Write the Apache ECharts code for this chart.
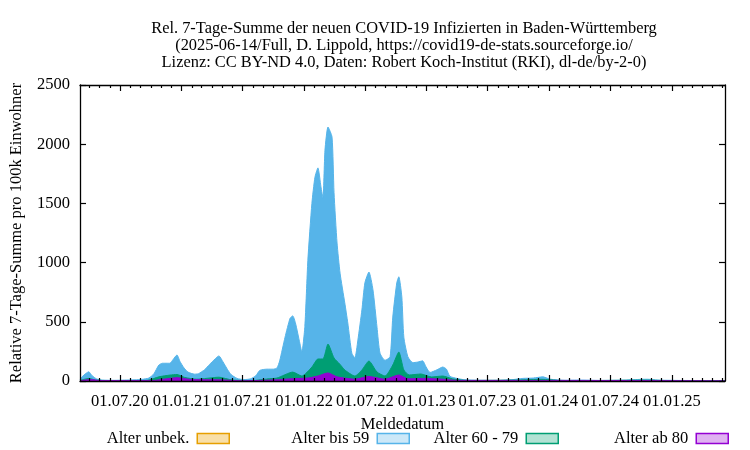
<!DOCTYPE html>
<html>
<head>
<meta charset="utf-8">
<script src="https://cdn.jsdelivr.net/npm/echarts@6/dist/echarts.min.js"></script>
<style>html,body{margin:0;padding:0;background:#fff}#c{width:750px;height:450px}</style>
</head>
<body>
<div id="c"></div>
<script>
// ---- data ----
const titleLines = [
  "Rel. 7-Tage-Summe der neuen COVID-19 Infizierten in Baden-Württemberg",
  "(2025-06-14/Full, D. Lippold, https://covid19-de-stats.sourceforge.io/",
  "Lizenz: CC BY-ND 4.0, Daten: Robert Koch-Institut (RKI), dl-de/by-2-0)"
];
const seriesNames = ["Alter unbek.", "Alter bis 59", "Alter 60 - 79", "Alter ab 80"];
const xRange = ["2020-03-04", "2025-06-08"];
const yTicks = [0, 500, 1000, 1500, 2000, 2500];

const unknownAge = [["2020-03-04",0],["2022-03-13",0],["2025-06-08",0]];

const age0to59 = [
  ["2020-03-04",15],["2020-03-10",35],["2020-03-22",65],["2020-03-30",78],["2020-04-09",45],
  ["2020-04-23",17],["2020-05-10",8],["2020-06-15",6],["2020-07-15",8],["2020-08-15",10],
  ["2020-09-05",14],["2020-09-25",25],["2020-10-10",60],["2020-10-25",135],["2020-11-05",150],
  ["2020-11-18",150],["2020-11-27",150],["2020-12-06",180],["2020-12-18",220],["2020-12-27",165],
  ["2021-01-08",110],["2021-01-20",75],["2021-02-08",58],["2021-02-20",62],["2021-03-10",95],
  ["2021-03-25",140],["2021-04-10",185],["2021-04-22",212],["2021-05-04",162],["2021-05-18",95],
  ["2021-05-28",55],["2021-06-15",22],["2021-07-05",12],["2021-07-25",18],["2021-08-10",45],
  ["2021-08-22",90],["2021-09-12",100],["2021-10-01",100],["2021-10-12",110],["2021-10-20",170],
  ["2021-11-05",370],["2021-11-20",530],["2021-11-28",550],["2021-12-06",490],["2021-12-19",320],
  ["2021-12-25",245],["2022-01-03",460],["2022-01-12",1020],["2022-01-24",1500],["2022-02-02",1720],
  ["2022-02-11",1800],["2022-02-20",1640],["2022-02-26",1545],["2022-03-04",1950],["2022-03-13",2145],
  ["2022-03-25",2060],["2022-03-31",1590],["2022-04-09",1165],["2022-04-18",910],["2022-05-02",660],
  ["2022-05-11",490],["2022-05-23",235],["2022-06-01",195],["2022-06-10",345],["2022-06-22",600],
  ["2022-07-01",830],["2022-07-13",920],["2022-07-25",770],["2022-08-06",455],["2022-08-15",235],
  ["2022-08-30",175],["2022-09-14",205],["2022-09-22",540],["2022-10-04",830],["2022-10-10",880],
  ["2022-10-19",710],["2022-10-25",370],["2022-11-06",205],["2022-11-21",155],["2022-12-05",160],
  ["2022-12-20",170],["2022-12-30",120],["2023-01-11",72],["2023-02-01",95],["2023-02-18",118],
  ["2023-03-01",100],["2023-03-11",40],["2023-04-01",22],["2023-04-25",10],["2023-06-01",6],
  ["2023-08-01",5],["2023-09-15",12],["2023-10-15",22],["2023-11-15",25],["2023-12-13",35],
  ["2024-01-05",15],["2024-02-15",6],["2024-04-01",8],["2024-06-01",5],["2024-08-15",8],
  ["2024-10-01",14],["2024-10-20",15],["2024-11-20",8],["2025-01-15",5],["2025-03-15",4],
  ["2025-06-08",3]
];

const age60to79 = [
  ["2020-03-04",5],["2020-03-30",22],["2020-04-20",8],["2020-06-01",3],["2020-09-20",5],
  ["2020-10-25",35],["2020-11-27",50],["2020-12-18",55],["2021-01-10",30],["2021-02-15",15],
  ["2021-04-22",32],["2021-06-01",8],["2021-08-01",4],["2021-09-15",18],["2021-10-12",25],
  ["2021-11-28",75],["2021-12-25",42],["2022-01-24",118],["2022-02-11",186],["2022-02-26",186],
  ["2022-03-13",312],["2022-03-31",194],["2022-04-18",140],["2022-05-02",93],["2022-06-01",42],
  ["2022-06-22",93],["2022-07-13",169],["2022-08-06",76],["2022-08-30",42],["2022-09-22",135],
  ["2022-10-10",245],["2022-10-25",93],["2022-11-10",51],["2022-12-15",59],["2023-01-15",34],
  ["2023-02-18",42],["2023-03-20",17],["2023-05-01",5],["2023-10-01",8],["2023-12-10",14],
  ["2024-02-01",5],["2024-05-01",4],["2024-10-15",7],["2025-01-01",3],["2025-06-08",2]
];

const age80plus = [
  ["2020-03-04",3],["2020-04-05",12],["2020-05-01",4],["2020-10-01",3],["2020-12-18",28],
  ["2021-02-01",12],["2021-04-22",10],["2021-07-01",2],["2021-10-12",10],["2021-11-28",20],
  ["2022-01-12",25],["2022-02-11",42],["2022-03-13",68],["2022-04-09",35],["2022-06-01",15],
  ["2022-07-13",38],["2022-08-30",15],["2022-10-10",51],["2022-11-06",18],["2022-12-20",22],
  ["2023-02-18",15],["2023-04-01",5],["2024-01-01",5],["2025-06-08",2]
];

// ---- helpers ----
function ts(s){ const p = s.split('-').map(Number); return new Date(p[0], p[1]-1, p[2]).getTime(); }
function toTs(arr){ return arr.map(function(r){ return [ts(r[0]), r[1]]; }); }
const xMin = ts(xRange[0]), xMax = ts(xRange[1]);
const majorTicks = [], minorTicks = [];
for (let y = 2020; y <= 2025; y++) {
  for (let m = 0; m < 12; m++) {
    const t = new Date(y, m, 1).getTime();
    if (t < xMin || t > xMax) continue;
    if (m === 0 || m === 6) majorTicks.push(t); else minorTicks.push(t);
  }
}
function fmt(v){
  const d = new Date(v);
  const p = function(n){ return (n < 10 ? '0' : '') + n; };
  return p(d.getDate()) + '.' + p(d.getMonth()+1) + '.' + p(d.getFullYear() % 100);
}

const FONT = 'Liberation Serif';
const colors = ['#e69f00', '#56b4e9', '#009e73', '#9400d3'];
const legendFill = ['#f8dfa8', '#cce8f8', '#b2e2d4', '#dfb2f1'];
const legendRight = [520, 340, 191, 21];

function xAx(pos, ticks, len, showLine, showLabel, extra){
  return Object.assign({
    type: 'value', position: pos, min: xMin, max: xMax, gridIndex: 0, scale: true, z: 10,
    axisLine: { show: showLine, onZero: false, lineStyle: { color: '#000', width: 1.3 } },
    axisTick: { show: true, inside: true, length: len, customValues: ticks, lineStyle: { color: '#000', width: 1.2 } },
    axisLabel: showLabel ? { show: true, customValues: ticks, formatter: fmt, color: '#000', fontFamily: FONT, fontSize: 16.5, margin: 12, hideOverlap: false } : { show: false, customValues: ticks },
    splitLine: { show: false }
  }, extra || {});
}
function yAx(pos, showLabel, extra){
  return Object.assign({
    type: 'value', position: pos, min: 0, max: 2500, interval: 500, z: 10,
    axisLine: { show: true, onZero: false, lineStyle: { color: '#000', width: 1.3 } },
    axisTick: { show: true, inside: true, length: 6, customValues: yTicks, lineStyle: { color: '#000', width: 1.2 } },
    axisLabel: showLabel ? { show: true, customValues: yTicks, formatter: function(v){ return String(v); }, color: '#000', fontFamily: FONT, fontSize: 16.5, margin: 10 } : { show: false, customValues: yTicks },
    splitLine: { show: false }
  }, extra || {});
}

const chart = echarts.init(document.getElementById('c'), null, { renderer: 'canvas' });
const option = {
  animation: false,
  backgroundColor: '#fff',
  grid: { left: 80, right: 25, top: 85, bottom: 69, containLabel: false, outerBoundsMode: 'none' },
  graphic: [{
    type: 'text', x: 404, y: 20,
    style: { text: titleLines.join('\n'), fill: '#000', font: '16.4px "' + FONT + '"', lineHeight: 17, align: 'center', verticalAlign: 'top' }
  }],
  legend: seriesNames.map(function(n, i){
    return {
      show: true, right: legendRight[i], top: 430, padding: 0, align: 'right', orient: 'horizontal',
      itemWidth: 32, itemHeight: 10, icon: 'rect',
      textStyle: { color: '#000', fontFamily: FONT, fontSize: 16.5, padding: [0, 3, 0, 0] },
      data: [{ name: n, icon: 'rect', itemStyle: { color: legendFill[i], borderColor: colors[i], borderWidth: 1.5 } }],
      selectedMode: false
    };
  }),
  xAxis: [
    xAx('bottom', majorTicks, 6, true, true, { name: 'Meldedatum', nameLocation: 'middle', nameGap: 35, nameTextStyle: { color: '#000', fontFamily: FONT, fontSize: 16.5 } }),
    xAx('bottom', minorTicks, 3, false, false),
    xAx('top', majorTicks, 6, true, false),
    xAx('top', minorTicks, 3, false, false)
  ],
  yAxis: [
    yAx('left', true, { name: 'Relative 7-Tage-Summe pro 100k Einwohner', nameLocation: 'middle', nameGap: 55,
      nameTextStyle: { color: '#000', fontFamily: FONT, fontSize: 16.5 } }),
    yAx('right', false)
  ],
  series: [unknownAge, age0to59, age60to79, age80plus].map(function(d, i){
    return {
      name: seriesNames[i], type: 'line', xAxisIndex: 0, yAxisIndex: 0,
      data: toTs(d), symbol: 'none', smooth: 0.2,
      lineStyle: { color: colors[i], width: 1 },
      itemStyle: { color: colors[i] },
      areaStyle: { color: colors[i], opacity: 1, origin: 'start' },
      z: 2 + i
    };
  })
};
chart.setOption(option);
</script>
</body>
</html>
